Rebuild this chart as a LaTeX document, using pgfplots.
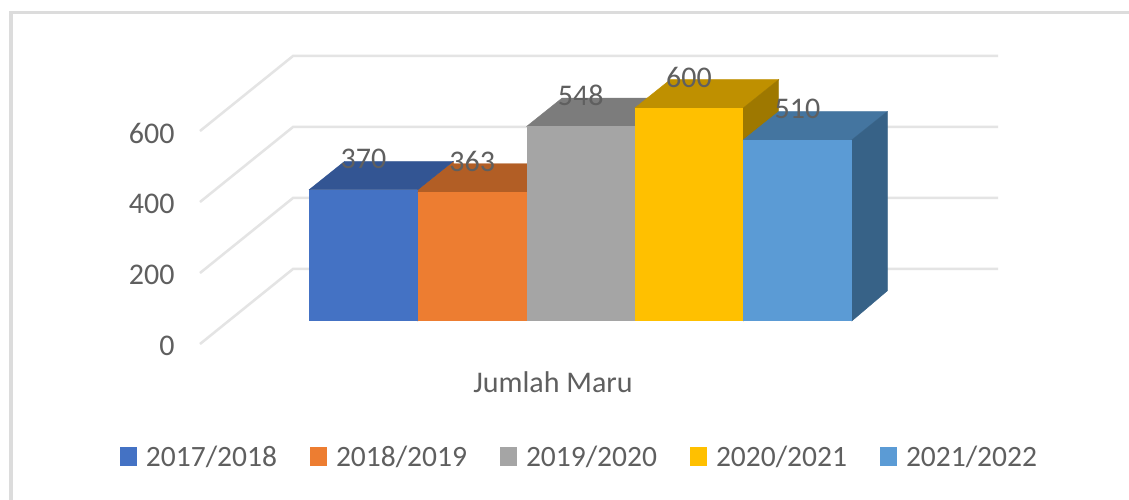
\documentclass[border=0pt]{standalone}
\usepackage{pgfplots}
\usepackage{fontspec}
\setmainfont{Carlito}
\pgfplotsset{compat=1.18}
\definecolor{txt}{HTML}{5F5F5F}
\definecolor{gridc}{HTML}{E4E4E4}
\definecolor{frame}{HTML}{DCDCDC}
\definecolor{cA}{HTML}{4472C4}\definecolor{cAt}{HTML}{335593}
\definecolor{cB}{HTML}{ED7D31}\definecolor{cBt}{HTML}{B25E25}
\definecolor{cC}{HTML}{A5A5A5}\definecolor{cCt}{HTML}{7C7C7C}
\definecolor{cD}{HTML}{FFC000}\definecolor{cDt}{HTML}{BF9000}\definecolor{cDs}{HTML}{9E7800}
\definecolor{cE}{HTML}{5B9BD5}\definecolor{cEt}{HTML}{4475A0}\definecolor{cEs}{HTML}{376287}
\pgfplotsset{
  barface/.style={ybar,bar shift=0pt,draw=none,
    nodes near coords={\pgfmathprintnumber[assume math mode=true]{\pgfplotspointmeta}},
    every node near coord/.append style={anchor=center,yshift=31pt,text=txt,font=\fontsize{30}{36}\selectfont}},
  wall/.style={gridc,line width=2.5pt,forget plot},
}
\begin{document}
\begin{tikzpicture}
\path[use as bounding box] (-200pt,-156pt) rectangle (929pt,344pt);
\fill[white] (-200pt,-156pt) rectangle (929pt,344pt);
\draw[frame,line width=3.5pt] (-189pt,-156pt) -- (-189pt,331.5pt) -- (929pt,331.5pt);
\begin{axis}[
  scale only axis, width=800pt, height=288pt,
  xmin=200, xmax=1000, ymin=-64.8, ymax=746.5,
  clip=false,
  axis line style={draw=none},
  major tick length=0pt,
  xtick={553}, xticklabels={Jumlah Maru},
  ytick={-64.8,135.2,335.2,535.2}, yticklabels={0,200,400,600},
  tick label style={text=txt,font=\fontsize{30}{36}\selectfont},
  /pgf/number format/assume math mode=true,
  xticklabel style={yshift=-24pt},
  yticklabel style={xshift=-22pt,yshift=-2pt},
  legend columns=5,
  legend cell align=left,
  legend style={at={(axis cs:120,-383)},anchor=west,draw=none,fill=none,
    font=\fontsize{29.5}{35}\selectfont,text=txt,inner sep=0pt,outer sep=0pt,
    /tikz/every even column/.append style={column sep=31pt}},
  legend image code/.code={\fill[#1,draw=none] (0pt,-9pt) rectangle (17pt,10pt);\path (24pt,0pt);},
]
% walls
\addplot[wall] coordinates {(200,-64.8)(293,146.5)(998,146.5)};
\addplot[wall] coordinates {(200,135.2)(293,346.5)(998,346.5)};
\addplot[wall] coordinates {(200,335.2)(293,546.5)(998,546.5)};
\addplot[wall] coordinates {(200,535.2)(293,746.5)(998,746.5)};
% 2017/2018
\addplot[fill=cBt,draw=cBt,line width=0.4pt,forget plot] coordinates {(417.8,370)(453.3,450)(453.3,85)(417.8,0)} --cycle;
\addplot[fill=cAt,draw=cAt,line width=0.4pt,forget plot] coordinates {(309.2,370)(417.8,370)(453.3,450)(344.7,450)} --cycle;
\addplot[barface,bar width=108.6,fill=cA] coordinates {(363.5,370)};
\addlegendentry{2017/2018}
% 2018/2019
\addplot[fill=cBt,draw=cBt,line width=0.4pt,forget plot] coordinates {(417.8,363)(526.6,363)(562.1,443)(453.3,443)} --cycle;
\addplot[barface,bar width=108.8,fill=cB] coordinates {(472.2,363)};
\addlegendentry{2018/2019}
% 2019/2020
\addplot[fill=cCt,draw=cCt,line width=0.4pt,forget plot] coordinates {(526.6,548)(634.8,548)(670.3,628)(562.1,628)} --cycle;
\addplot[barface,bar width=108.2,fill=cC] coordinates {(580.7,548)};
\addlegendentry{2019/2020}
% 2020/2021
\addplot[fill=cDt,draw=cDt,line width=0.4pt,forget plot] coordinates {(634.8,600)(743.2,600)(778.7,680)(670.3,680)} --cycle;
\addplot[fill=cDs,draw=cDs,line width=0.4pt,forget plot] coordinates {(743.2,600)(778.7,680)(778.7,85)(743.2,0)} --cycle;
\addplot[barface,bar width=108.4,fill=cD] coordinates {(689,600)};
\addlegendentry{2020/2021}
% 2021/2022
\addplot[fill=cEt,draw=cEt,line width=0.4pt,forget plot] coordinates {(743.2,510)(851.8,510)(887.3,590)(778.7,590)} --cycle;
\addplot[fill=cEs,draw=cEs,line width=0.4pt,forget plot] coordinates {(851.8,510)(887.3,590)(887.3,85)(851.8,0)} --cycle;
\addplot[barface,bar width=108.6,fill=cE] coordinates {(797.5,510)};
\addlegendentry{2021/2022}
\end{axis}
\end{tikzpicture}
\end{document}
